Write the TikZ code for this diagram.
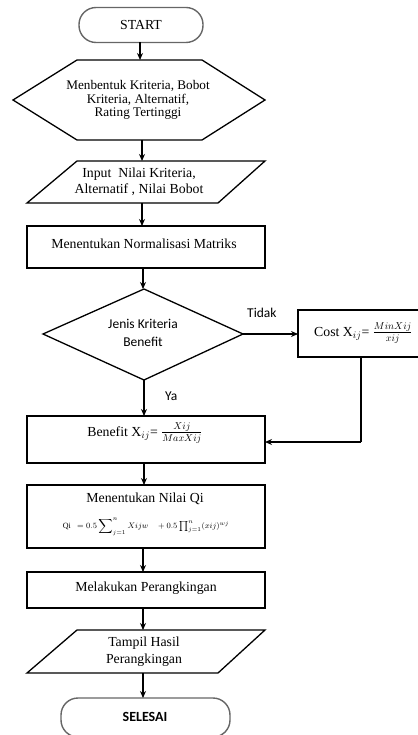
\documentclass[tikz,border=0pt]{standalone}
\usepackage{fontspec}
\setmainfont{Liberation Serif}
\newfontfamily\calib{Carlito}
\usetikzlibrary{arrows.meta}
\begin{document}
\begin{tikzpicture}[x=1pt,y=-1pt,
  box/.style={draw=black,line width=1.3pt,rectangle,inner sep=0pt,outer sep=0pt,align=center},
  term/.style={draw=black!60,line width=1.4pt,rectangle,rounded corners=17pt,inner sep=0pt,outer sep=0pt},
  shp/.style={draw=black,line width=1.3pt,line join=miter},
  arr/.style={draw=black,line width=1.3pt,-{Stealth[length=7pt,width=6pt]}},
  ln/.style={draw=black,line width=1.3pt},
  txt/.style={inner sep=0pt,align=center,font=\fontsize{13.8}{16}\selectfont},
  ctxt/.style={inner sep=0pt,align=center,font=\calib\fontsize{13.5}{18}\selectfont},
]
\useasboundingbox (0,0) rectangle (417,735);
% START
\node[term,minimum width=124pt,minimum height=35pt] (start) at (141,25) {};
\node[txt] (startt) at (141,25) {START};
% hexagon
\draw[shp] (77,60) -- (202,60) -- (265,100) -- (202,140) -- (77,140) -- (13,100) -- cycle;
\coordinate (hexT) at (140,60);
\coordinate (hexB) at (142,140);
\node[txt,font=\fontsize{13.2}{13.2}\selectfont] (hext) at (138,100) {Menbentuk Kriteria, Bobot\\Kriteria, Alternatif,\\Rating Tertinggi};
% parallelogram 1
\draw[shp] (77,161) -- (265,161) -- (218,203) -- (27,203) -- cycle;
\coordinate (p1T) at (142,161);
\coordinate (p1B) at (142,203);
\node[txt] (p1t) at (139,182) {Input\ \ Nilai Kriteria,\\Alternatif , Nilai Bobot};
% normalisasi
\node[box,minimum width=238pt,minimum height=42pt] (norm) at (146,247) {};
\node[txt] (normt) at (144,244) {Menentukan Normalisasi Matriks};
% diamond
\draw[shp] (144,289) -- (243,334) -- (144,380) -- (43,334) -- cycle;
\coordinate (dT) at (143,289);
\coordinate (dR) at (243,334);
\coordinate (dB) at (144,380);
\node[ctxt] (dt) at (143,333) {Jenis Kriteria\\Benefit};
\node[ctxt,anchor=west] (tidak) at (247,313) {Tidak};
\node[ctxt,anchor=west] (ya) at (165,396) {Ya};
% cost
\node[box,minimum width=124pt,minimum height=47pt,anchor=north west] (cost) at (298,310) {};
\node[txt,anchor=west] (costt) at (314,333) {Cost X$_{ij}$= $\frac{\scriptstyle MinXij}{\scriptstyle xij}$};
\coordinate (cB) at (361,357);
\coordinate (cC) at (361,442);
% benefit
\node[box,minimum width=238pt,minimum height=47pt] (ben) at (146,439.5) {};
\node[txt] (bent) at (145,433) {Benefit X$_{ij}$= $\frac{\scriptstyle Xij}{\scriptstyle MaxXij}$};
% Qi
\node[box,minimum width=238pt,minimum height=63pt] (qi) at (146,516.5) {};
\node[txt] (qit) at (145,499) {Menentukan Nilai Qi};
\node[inner sep=0pt,font=\fontsize{8}{9}\selectfont] (qif) at (146,527) {$\mathrm{Qi}\ \ = 0.5\displaystyle\sum\nolimits_{j=1}^{n} Xijw \quad + 0.5\textstyle\prod_{j=1}^{n}(xij)^{wj}$};
% melakukan
\node[box,minimum width=238pt,minimum height=36pt] (mel) at (146,590) {};
\node[txt] (melt) at (146,588) {Melakukan Perangkingan};
% parallelogram 2
\draw[shp] (77,630) -- (265,630) -- (218,673) -- (27,673) -- cycle;
\coordinate (p2T) at (143,630);
\coordinate (p2B) at (143,673);
\node[txt,font=\fontsize{13.8}{17}\selectfont] (p2t) at (144,652) {Tampil Hasil\\Perangkingan};
% SELESAI
\node[term,minimum width=169pt,minimum height=39pt] (end) at (145.5,717.5) {};
\node[ctxt,font=\calib\bfseries\fontsize{14}{16}\selectfont] (endt) at (145,717) {SELESAI};
% connectors
\draw[arr] (hexT |- start.south) -- (hexT);
\draw[arr] (hexB) -- (p1T);
\draw[arr] (p1B) -- (p1B |- norm.north);
\draw[arr] (dT |- norm.south) -- (dT);
\draw[arr] (dR) -- (dR -| cost.west);
\draw[arr] (dB) -- (dB |- ben.north);
\draw[ln] (cB) -- (cC);
\draw[arr] (cC) -- (cC -| ben.east);
\draw[arr] (dB |- ben.south) -- (dB |- qi.north);
\draw[arr] (p2T |- qi.south) -- (p2T |- mel.north);
\draw[arr] (p2T |- mel.south) -- (p2T);
\draw[arr] (p2B) -- (p2B |- end.north);
\end{tikzpicture}
\end{document}
